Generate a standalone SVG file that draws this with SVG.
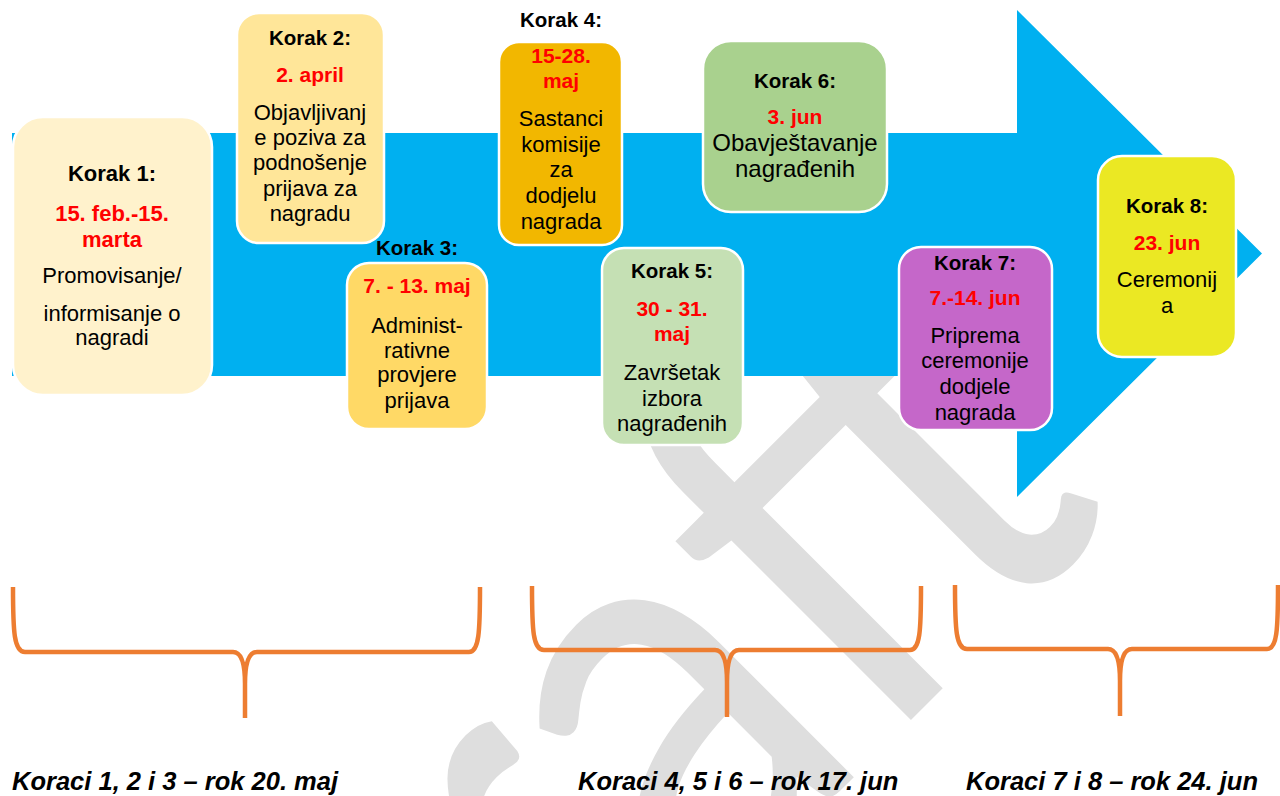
<svg xmlns="http://www.w3.org/2000/svg" width="1280" height="796" viewBox="0 0 1280 796">
<style>
  text { font-family: "Liberation Sans", Arial, sans-serif; text-anchor: middle; fill: #000; }
  .h { font-weight: bold; font-size: 20.5px; }
  .d { font-weight: bold; font-size: 21px; fill: #ff0000; }
  .b { font-size: 22px; }
  .box { stroke: #ffffff; stroke-width: 2.5; }
  .brace { fill: none; stroke: #ED7D31; stroke-width: 4.5; stroke-linejoin: round; }
  .cap { font-weight: bold; font-style: italic; font-size: 25.5px; text-anchor: start; }
  .wm { font-family: Lato, "Open Sans", sans-serif; font-size: 590px; fill: #dedede; text-anchor: end; }
</style>
<rect x="0" y="0" width="1280" height="796" fill="#ffffff"/>
<g id="watermark">
  <text class="wm" transform="translate(1117,514) rotate(-45) scale(0.85,1)" x="0" y="0">Draft</text>
</g>
<g id="arrow">
  <path d="M12,133 L1017,133 L1017,10 L1262,253.5 L1017,497 L1017,376 L12,376 Z" fill="#00B0F0"/>
</g>
<g id="step1">
  <rect class="box" x="13" y="117" width="199" height="278" rx="30" fill="#FFF2CC"/>
  <text class="h" x="112" y="181" style="font-size:22px">Korak 1:</text>
  <text class="d" x="112" y="221" style="font-size:22px">15. feb.-15.</text>
  <text class="d" x="112" y="247" style="font-size:22px">marta</text>
  <text class="b" x="112" y="283">Promovisanje/</text>
  <text class="b" x="112" y="321">informisanje o</text>
  <text class="b" x="112" y="345">nagradi</text>
</g>
<g id="step2">
  <rect class="box" x="237" y="13" width="147" height="230" rx="22" fill="#FFE699"/>
  <text class="h" x="310" y="45">Korak 2:</text>
  <text class="d" x="310" y="82">2. april</text>
  <text class="b" x="310" y="120">Objavljivanj</text>
  <text class="b" x="310" y="145">e poziva za</text>
  <text class="b" x="310" y="170">podnošenje</text>
  <text class="b" x="310" y="196">prijava za</text>
  <text class="b" x="310" y="221">nagradu</text>
</g>
<g id="step3">
  <rect class="box" x="347" y="263" width="140" height="166" rx="22" fill="#FFD966"/>
  <text class="h" x="417" y="255">Korak 3:</text>
  <text class="d" x="417" y="293">7. - 13. maj</text>
  <text class="b" x="417" y="333">Administ-</text>
  <text class="b" x="417" y="358">rativne</text>
  <text class="b" x="417" y="382">provjere</text>
  <text class="b" x="417" y="408">prijava</text>
</g>
<g id="step4">
  <rect class="box" x="499" y="42" width="123" height="203" rx="20" fill="#F2B700"/>
  <text class="h" x="561" y="27">Korak 4:</text>
  <text class="d" x="561" y="63">15-28.</text>
  <text class="d" x="561" y="88">maj</text>
  <text class="b" x="561" y="126">Sastanci</text>
  <text class="b" x="561" y="152">komisije</text>
  <text class="b" x="561" y="177">za</text>
  <text class="b" x="561" y="203">dodjelu</text>
  <text class="b" x="561" y="229">nagrada</text>
</g>
<g id="step5">
  <rect class="box" x="602" y="248" width="141" height="197" rx="22" fill="#C5E0B4"/>
  <text class="h" x="672" y="278">Korak 5:</text>
  <text class="d" x="672" y="316">30 - 31.</text>
  <text class="d" x="672" y="341">maj</text>
  <text class="b" x="672" y="380">Završetak</text>
  <text class="b" x="672" y="406">izbora</text>
  <text class="b" x="672" y="431">nagrađenih</text>
</g>
<g id="step6">
  <rect class="box" x="703" y="41" width="184" height="171" rx="28" fill="#A9D18E"/>
  <text class="h" x="795" y="88">Korak 6:</text>
  <text class="d" x="795" y="124">3. jun</text>
  <text class="b" x="795" y="151" style="font-size:24px">Obavještavanje</text>
  <text class="b" x="795" y="177" style="font-size:24px">nagrađenih</text>
</g>
<g id="step7">
  <rect class="box" x="899" y="247" width="153" height="183" rx="22" fill="#C567C9"/>
  <text class="h" x="975" y="270">Korak 7:</text>
  <text class="d" x="975" y="305">7.-14. jun</text>
  <text class="b" x="975" y="343">Priprema</text>
  <text class="b" x="975" y="368">ceremonije</text>
  <text class="b" x="975" y="394">dodjele</text>
  <text class="b" x="975" y="420">nagrada</text>
</g>
<g id="step8">
  <rect class="box" x="1098" y="156" width="138" height="201" rx="24" fill="#EBE823"/>
  <text class="h" x="1167" y="213">Korak 8:</text>
  <text class="d" x="1167" y="250">23. jun</text>
  <text class="b" x="1167" y="287">Ceremonij</text>
  <text class="b" x="1167" y="313">a</text>
</g>
<g id="connectors">
  <path class="brace" d="M13,587 C13,632 14,652 25,652 L233,652 C241,652 245,662 245,684 L245,718 M245,684 C245,662 249,652 257,652 L469,652 C479,652 480,632 480,587"/>
  <path class="brace" d="M532,586 C532,631 533,650 544,650 L715,650 C723,650 727,660 727,682 L727,717 M727,682 C727,660 731,650 739,650 L910,650 C920,650 921,631 921,586"/>
  <path class="brace" d="M955,585 C955,630 956,649 967,649 L1108,649 C1116,649 1120,659 1120,681 L1120,716 M1120,681 C1120,659 1124,649 1132,649 L1267,649 C1277,649 1278,630 1278,585"/>
</g>
<g id="captions">
  <text class="cap" x="12" y="790">Koraci 1, 2 i 3 – rok 20. maj</text>
  <text class="cap" x="578" y="790">Koraci 4, 5 i 6 – rok 17. jun</text>
  <text class="cap" x="966" y="790">Koraci 7 i 8 – rok 24. jun</text>
</g>
</svg>
